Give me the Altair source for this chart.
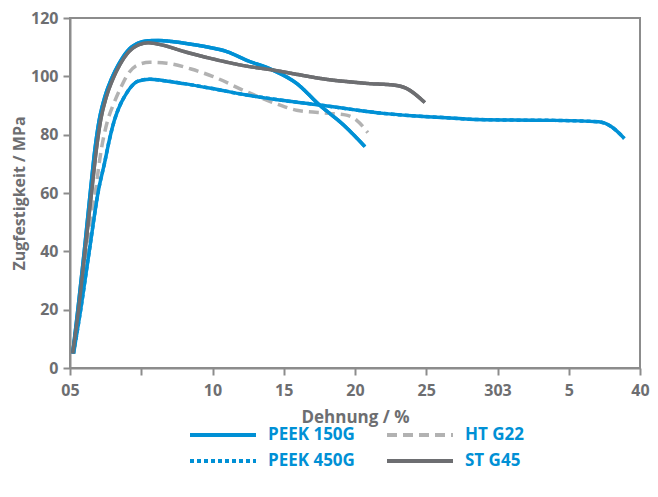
import altair as alt
import pandas as pd

# --- data ---
peek150_x = [0.19, 0.55, 1.0, 1.44, 1.75, 2.05, 2.45, 2.9, 3.4, 4.0, 4.7, 5.5, 6.2, 7.0, 8.5, 10.0, 11.0, 12.4, 14.2, 15.9, 17.5, 19.2, 20.7]
peek150_y = [5, 20, 40, 61, 75, 85, 93, 99, 104, 108.5, 111.2, 112.2, 112.3, 112, 111, 109.7, 108.5, 105.5, 102.2, 97.6, 90.2, 83.3, 75.9]

peek450_x = [0.25, 0.75, 1.35, 2.0, 2.42, 2.8, 3.12, 3.5, 3.82, 4.3, 4.74, 5.6, 6.5, 8.0, 10.0, 12.4, 15.0, 17.5, 20.0, 22.0, 24.0, 26.4, 28.0, 31.0, 34.0, 37.1, 38.0, 38.9]
peek450_y = [5, 20, 40, 61, 70.2, 79, 85, 90, 93, 96.5, 98.3, 99, 98.6, 97.5, 95.8, 93.6, 91.7, 90.2, 88.5, 87.3, 86.5, 85.8, 85.3, 85, 84.9, 84.4, 82.7, 78.7]

htg22_x = [0.25, 0.7, 1.25, 1.8, 2.2, 2.65, 3.1, 3.6, 4.1, 4.7, 5.6, 6.8, 8.5, 10.0, 12.4, 14.7, 15.9, 18.2, 19.4, 20.1, 20.9]
htg22_y = [5, 20, 40, 61, 75, 85, 91, 96.5, 101, 103.8, 104.8, 104.5, 102.5, 100, 94.7, 90.2, 88.4, 87.3, 86.7, 85, 80.7]

stg45_x = [0.19, 0.6, 1.05, 1.53, 1.85, 2.15, 2.55, 3.0, 3.5, 4.1, 4.8, 5.5, 6.5, 8.0, 10.0, 12.4, 14.2, 16.0, 17.7, 19.4, 21.0, 22.7, 23.6, 24.9]
stg45_y = [5, 20, 40, 61, 75, 85, 93, 99, 104, 108.3, 110.8, 111.5, 110.7, 108.5, 106, 103.5, 102.2, 100.6, 99.2, 98.2, 97.5, 97, 95.9, 91]

series_names = ["PEEK 150G", "PEEK 450G", "HT G22", "ST G45"]
series_colors = ["#0090d5", "#0090d5", "#b2b2b2", "#6d6e71"]
series_dash = [[1, 0], [4, 3], [10, 6], [1, 0]]

x_ticks = [0, 5, 10, 15, 20, 25, 30, 35, 40]
y_ticks = [0, 20, 40, 60, 80, 100, 120]

rows = []
for name, xs, ys in [("PEEK 150G", peek150_x, peek150_y),
                     ("PEEK 450G", peek450_x, peek450_y),
                     ("HT G22", htg22_x, htg22_y),
                     ("ST G45", stg45_x, stg45_y)]:
    for i, (a, b) in enumerate(zip(xs, ys)):
        rows.append({"series": name, "x": a, "y": b, "order": i})
df = pd.DataFrame(rows)

TXT = "#6d6e71"
BLUE = "#0090d5"
FONT = "Open Sans"

x_enc = alt.X("x:Q",
              scale=alt.Scale(domain=[0, 40], nice=False, zero=False),
              axis=alt.Axis(values=x_ticks, title="Dehnung / %", labelFlush=False,
                            labelExpr="datum.value == 0 ? '05' : datum.value == 5 ? '' : datum.value == 30 ? '303' : datum.value == 35 ? '5' : datum.label",
                            titlePadding=11, titleFontSize=17))
y_enc = alt.Y("y:Q",
              scale=alt.Scale(domain=[0, 120], nice=False),
              axis=alt.Axis(values=y_ticks, title="Zugfestigkeit / MPa", titlePadding=3, labelFlush=False))

color_scale = alt.Scale(domain=series_names, range=series_colors)

legend = alt.Legend(title=None, orient="none", legendX=141, legendY=405,
                    columns=2, columnPadding=24, rowPadding=6,
                    symbolType="M-3.3,0H3.3", symbolSize=400,
                    symbolStrokeWidth=4, labelOffset=33,
                    labelFont=FONT, labelFontSize=17, labelFontWeight="bold",
                    labelColor=BLUE, padding=0)

base = alt.Chart(df)

legend_layer = base.mark_line(strokeWidth=3.5, interpolate="monotone").encode(
    x=x_enc,
    y=y_enc,
    order="order:Q",
    color=alt.Color("series:N", scale=color_scale, legend=legend),
    strokeDash=alt.StrokeDash("series:N", scale=alt.Scale(domain=series_names, range=series_dash),
                              legend=legend),
)

solid_layer = base.transform_filter(alt.datum.series != "HT G22").mark_line(
    strokeWidth=3.5, interpolate="monotone").encode(
    x=x_enc,
    y=y_enc,
    order="order:Q",
    color=alt.Color("series:N", scale=color_scale, legend=None),
)

chart = alt.layer(legend_layer, solid_layer).properties(
    width=570, height=350,
    autosize=alt.AutoSizeParams(type="none"),
    padding={"left": 62, "top": 10, "right": 10, "bottom": 108},
).configure_view(
    stroke="#8c8c8c", strokeWidth=2
).configure_axis(
    grid=False,
    domainColor="#8c8c8c", domainWidth=2,
    tickColor="#8c8c8c", tickWidth=2, tickSize=7,
    labelFont=FONT, labelFontSize=16, labelFontWeight="bold", labelColor=TXT, labelPadding=5,
    titleFont=FONT, titleFontSize=16, titleFontWeight="bold", titleColor=TXT,
).configure_axisX(labelPadding=7)

chart.save("out.html", embed_options={"renderer": "svg", "actions": False})
